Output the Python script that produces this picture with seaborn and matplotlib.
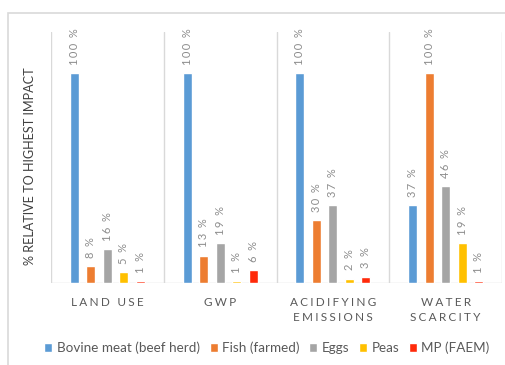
import matplotlib
matplotlib.use("Agg")
import matplotlib.pyplot as plt
import seaborn as sns
import pandas as pd
from matplotlib.patches import Rectangle

categories = ["LAND USE", "GWP", "ACIDIFYING\nEMISSIONS", "WATER\nSCARCITY"]
products = ["Bovine meat (beef herd)", "Fish (farmed)", "Eggs", "Peas", "MP (FAEM)"]
bovine = [100, 100, 100, 37]
fish = [8, 13, 30, 100]
eggs = [16, 19, 37, 46]
peas = [5, 1, 2, 19]
mp = [1, 6, 3, 1]
colors = ["#5B9BD5", "#ED7D31", "#A5A5A5", "#FFC000", "#FF2A0A"]
ylabel = "% RELATIVE TO HIGHEST IMPACT"

series = [bovine, fish, eggs, peas, mp]
rows = []
for prod, vals in zip(products, series):
    for cat, v in zip(categories, vals):
        rows.append({"category": cat, "product": prod, "value": v})
df = pd.DataFrame(rows)

sns.set_theme(style="white")
plt.rcParams["font.family"] = ["Lato", "DejaVu Sans"]

def spaced(s, sep="\u2009"):
    return "\n".join(sep.join(list(line)) for line in s.split("\n"))

fig = plt.figure(figsize=(5.05, 3.65), dpi=100)
ax = fig.add_axes([51 / 505, 1 - 283 / 365, (502 - 51) / 505, (283 - 32) / 365])

sns.barplot(data=df, x="category", y="value", hue="product", order=categories,
            hue_order=products, palette=colors, width=0.73, gap=0.45,
            saturation=1, ax=ax, legend=True)

for cont, vals in zip(ax.containers, series):
    ax.bar_label(cont, labels=[spaced(f"{v} %") for v in vals], rotation=90,
                 padding=6, color="#8C8C8C", fontsize=8)

ax.set_xlim(-0.5, 3.5)
ax.set_ylim(0, 119.5)
ax.set_yticks([])
for s in ax.spines.values():
    s.set_visible(False)
ax.axhline(0, color="#D9D9D9", lw=1.0, zorder=0)
for xb in [-0.5, 0.5, 1.5, 2.5, 3.5]:
    ax.axvline(xb, color="#D9D9D9", lw=1.0, zorder=0)

ax.set_xticks(range(len(categories)))
ax.set_xticklabels([spaced(c, "\u2009\u200a") for c in categories], color="#595959",
                   fontsize=8.5, linespacing=1.45)
ax.tick_params(axis="x", length=0, pad=10)
ax.set_xlabel("")
ax.set_ylabel(ylabel, color="#404040", fontsize=9.1)
ax.yaxis.set_label_coords(-0.034, 0.466)

handles, labels = ax.get_legend_handles_labels()
ax.get_legend().remove()
fig.legend(handles, labels, loc="center", bbox_to_anchor=(267 / 505, 1 - 348 / 365),
           ncol=5, frameon=False, fontsize=9.7, handlelength=0.6, handleheight=0.6,
           handletextpad=0.3, columnspacing=0.75, labelcolor="#595959")

fig.patches.append(Rectangle((8 / 505, -0.1), 1.2, 1 - 13 / 365 + 0.1,
                             transform=fig.transFigure, fill=False,
                             edgecolor="#D9D9D9", lw=1.2))

fig.savefig("out.png", dpi=100)
